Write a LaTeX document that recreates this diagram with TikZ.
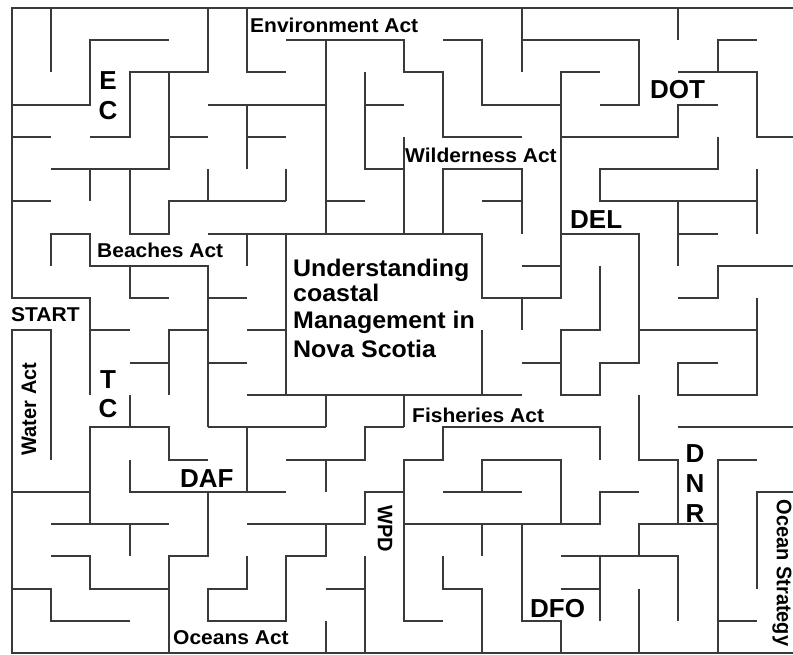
\documentclass[tikz,border=0pt]{standalone}
\usepackage{fontspec}
\setmainfont{Liberation Sans}
\definecolor{wallgray}{HTML}{3A3A3A}
\begin{document}
\begin{tikzpicture}[x=39.2pt,y=-32.25pt,
  wall/.style={line width=2pt,draw=wallgray,line cap=butt,line join=miter},
  small/.style={inner sep=0pt,font=\fontsize{20}{22}\selectfont\bfseries,xscale=1.05},
  big/.style={inner sep=0pt,font=\fontsize{26}{28}\selectfont\bfseries},
  mid/.style={inner sep=0pt,font=\fontsize{24}{26}\selectfont\bfseries,xscale=1.04}]
\clip (-12pt,8pt) rectangle (781pt,-647pt);
\fill[white] (-12pt,8pt) rectangle (781pt,-647pt);
% border
\draw[wall] (2,12) -- (2,9) -- (0,9) -- (0,0) -- (21,0);
\draw[wall] (1,14) -- (1,10) -- (0,10) -- (0,20) -- (21,20);
% walls, top part
\draw[wall] (1,0) -- (1,2);
\draw[wall] (0,3) -- (2,3) -- (2,1) -- (4,1);
\draw[wall] (2,4) -- (3,4) -- (3,2) -- (5,2) -- (5,0);
\draw[wall] (1,5) -- (4,5) -- (4,2);
\draw[wall] (0,4) -- (1,4);
\draw[wall] (4,4) -- (5,4);
\draw[wall] (2,5) -- (2,6);
\draw[wall] (3,5) -- (3,7) -- (4,7) -- (4,6) -- (7,6);
\draw[wall] (5,5) -- (5,6);
\draw[wall] (7,5) -- (7,6);
\draw[wall] (0,6) -- (1,6);
\draw[wall] (6,0) -- (6,2) -- (7,2);
\draw[wall] (7,1) -- (10,1) -- (10,2) -- (11,2) -- (11,4) -- (13,4);
\draw[wall] (8,1) -- (8,7);
\draw[wall] (5,3) -- (8,3);
\draw[wall] (6,3) -- (6,5);
\draw[wall] (6,4) -- (7,4);
\draw[wall] (9,2) -- (9,5) -- (10,5);
\draw[wall] (9,3) -- (10,3);
\draw[wall] (8,6) -- (9,6);
\draw[wall] (10,4) -- (10,7);
\draw[wall] (11,1) -- (12,1) -- (12,3) -- (14,3);
\draw[wall] (13,0) -- (13,2);
\draw[wall] (13,1) -- (16,1) -- (16,3) -- (15,3);
\draw[wall] (5,7) -- (12,7) -- (12,9) -- (14,9) -- (14,2) -- (15,2);
\draw[wall] (14,4) -- (17,4) -- (17,3) -- (18,3);
\draw[wall] (11,7) -- (11,5) -- (13,5) -- (13,7);
\draw[wall] (12,6) -- (13,6);
\draw[wall] (17,0) -- (17,1);
\draw[wall] (19,1) -- (18,1) -- (18,2);
\draw[wall] (17,2) -- (19,2) -- (19,4) -- (21,4);
\draw[wall] (18,4) -- (18,5) -- (15,5) -- (15,6) -- (19,6);
\draw[wall] (19,5) -- (19,7);
\draw[wall] (17,6) -- (17,8);
\draw[wall] (17,7) -- (18,7);
% middle part
\draw[wall] (1,8) -- (1,7) -- (2,7) -- (2,8) -- (5,8) -- (5,13);
\draw[wall] (3,8) -- (3,9) -- (4,9);
\draw[wall] (2,10) -- (3,10);
\draw[wall] (5,10) -- (4,10) -- (4,12);
\draw[wall] (3,11) -- (4,11);
\draw[wall] (3,12) -- (3,13);
\draw[wall] (2,16) -- (2,13) -- (4,13) -- (4,14) -- (5,14);
\draw[wall] (6,7) -- (6,8);
\draw[wall] (7,7) -- (7,12);
\draw[wall] (5,9) -- (6,9);
\draw[wall] (6,10) -- (7,10);
\draw[wall] (5,11) -- (6,11);
\draw[wall] (6,12) -- (13,12);
\draw[wall] (8,12) -- (8,13);
\draw[wall] (10,12) -- (10,13);
\draw[wall] (5,13) -- (8,13);
\draw[wall] (6,13) -- (6,15);
\draw[wall] (12,10) -- (12,12);
\draw[wall] (13,8) -- (14,8);
\draw[wall] (13,9) -- (13,10);
\draw[wall] (15,8) -- (15,10) -- (14,10) -- (14,12) -- (15,12) -- (15,11) -- (16,11) -- (16,7) -- (14,7);
\draw[wall] (13,11) -- (14,11);
\draw[wall] (16,10) -- (19,10);
\draw[wall] (21,8) -- (18,8) -- (18,9) -- (17,9);
\draw[wall] (19,9) -- (19,12) -- (17,12) -- (17,11) -- (18,11);
\draw[wall] (16,12) -- (16,14) -- (17,14) -- (17,16);
\draw[wall] (17,13) -- (21,13);
% bottom part
\draw[wall] (10,13) -- (9,13) -- (9,14) -- (7,14);
\draw[wall] (8,14) -- (8,15);
\draw[wall] (15,14) -- (15,13) -- (11,13) -- (11,14) -- (10,14) -- (10,19) -- (11,19);
\draw[wall] (0,15) -- (2,15);
\draw[wall] (3,14) -- (3,15) -- (7,15);
\draw[wall] (5,15) -- (5,17) -- (4,17) -- (4,20);
\draw[wall] (1,16) -- (4,16);
\draw[wall] (3,16) -- (3,17);
\draw[wall] (1,17) -- (2,17) -- (2,18) -- (4,18);
\draw[wall] (0,18) -- (1,18) -- (1,19) -- (3,19);
\draw[wall] (6,17) -- (6,18) -- (5,18) -- (5,19) -- (7,19) -- (7,17) -- (8,17) -- (8,16);
\draw[wall] (6,16) -- (9,16) -- (9,15) -- (10,15);
\draw[wall] (8,18) -- (9,18);
\draw[wall] (9,17) -- (9,20);
\draw[wall] (8,19) -- (8,20);
\draw[wall] (12,15) -- (12,14) -- (14,14) -- (14,16);
\draw[wall] (11,15) -- (13,15);
\draw[wall] (10,16) -- (15,16) -- (15,15) -- (16,15);
\draw[wall] (12,16) -- (12,17);
\draw[wall] (13,16) -- (13,19) -- (14,19) -- (14,20);
\draw[wall] (11,17) -- (11,18) -- (12,18) -- (12,20);
\draw[wall] (14,17) -- (17,17) -- (17,19);
\draw[wall] (15,17) -- (15,19);
\draw[wall] (14,18) -- (15,18);
\draw[wall] (16,17) -- (16,16) -- (18,16);
\draw[wall] (19,14) -- (18,14) -- (18,20);
\draw[wall] (18,19) -- (19,19);
\draw[wall] (21,15) -- (19,15) -- (19,18);
\draw[wall] (16,18) -- (16,20);
% labels (pixel coordinates)
\begin{scope}[shift={(-12pt,8pt)}]
\node[small,anchor=base west] (env) at (250pt,-33pt) {Environment Act};
\node[small,anchor=base west] (wild) at (405pt,-163pt) {Wilderness Act};
\node[small,anchor=base west] (beach) at (97pt,-258pt) {Beaches Act};
\node[small,anchor=base west] (start) at (11pt,-322pt) {START};
\node[small,anchor=base west] (fish) at (412pt,-422pt) {Fisheries Act};
\node[small,anchor=base west] (ocean) at (173pt,-644pt) {Oceans Act};
\node[small,rotate=90] (water) at (29pt,-409pt) {Water Act};
\node[small,rotate=-90] (wpd) at (385pt,-529pt) {WPD};
\node[small,rotate=-90] (ostrat) at (782pt,-573pt) {Ocean Strategy};
\node[big,anchor=base] (ece) at (108pt,-90pt) {E};
\node[big,anchor=base] (ecc) at (108pt,-120pt) {C};
\node[big,anchor=base west] (dot) at (650pt,-99pt) {DOT};
\node[big,anchor=base west] (del) at (570pt,-229pt) {DEL};
\node[big,anchor=base] (tct) at (108pt,-388pt) {T};
\node[big,anchor=base] (tcc) at (108pt,-417pt) {C};
\node[big,anchor=base west] (daf) at (180pt,-487pt) {DAF};
\node[big,anchor=base west] (dfo) at (530pt,-617pt) {DFO};
\node[big,anchor=base] (dnrd) at (695pt,-462pt) {D};
\node[big,anchor=base] (dnrn) at (695pt,-492pt) {N};
\node[big,anchor=base] (dnrr) at (695pt,-522pt) {R};
\node[mid,anchor=base west] (t1) at (293pt,-277pt) {Understanding};
\node[mid,anchor=base west] (t2) at (293pt,-302pt) {coastal};
\node[mid,anchor=base west] (t3) at (293pt,-328pt) {Management in};
\node[mid,anchor=base west] (t4) at (293pt,-357pt) {Nova Scotia};
\end{scope}
\end{tikzpicture}
\end{document}
